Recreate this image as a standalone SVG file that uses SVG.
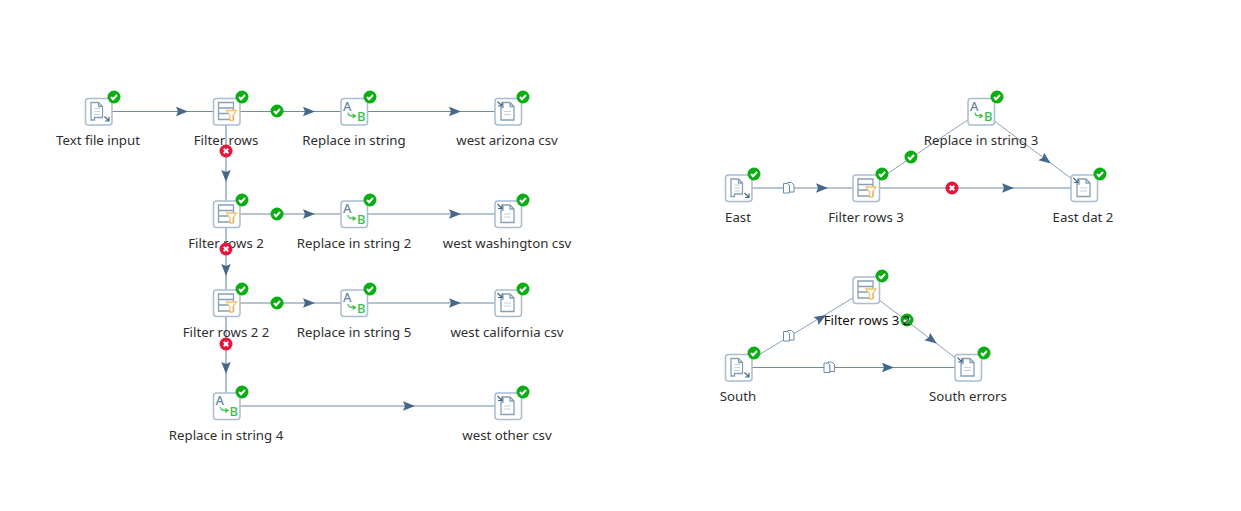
<svg xmlns="http://www.w3.org/2000/svg" xmlns:xlink="http://www.w3.org/1999/xlink" width="1241" height="511" viewBox="0 0 1241 511">
<style>
.l{fill:none;stroke:#6c8aa3;stroke-width:1.1}
.d{fill:none;stroke:#8aa2b7;stroke-width:1}
.t{font:13.25px "Noto Sans","Open Sans",sans-serif;fill:#2f2f2f;text-anchor:middle}
.box{fill:#fff;stroke:#a9bdcf;stroke-width:1.5}
.ic{fill:none;stroke:#86a0b7;stroke-width:1.3}
.ok{fill:#0aae12}
.bad{fill:#e8143c}
.w{fill:none;stroke:#fff;stroke-width:2}
.ab{font:500 13px "Noto Sans",sans-serif}
</style>
<defs>
<path id="ah" d="M-6-4.700L6 0L-6 4.700L-4 0Z" fill="#45688a"/>
<g id="in"><rect class="box" x="-13" y="-13" width="26.500" height="26.500" rx="3"/><path class="ic" d="M-7.500-9H0L4-5V6H-4V8.500H-7.500ZM0-9V-5H4"/><path d="M-4-3H1.500M-4 0H1.500M-4 3H1.500" stroke="#c4d1dc" fill="none"/><path d="M6 5L10.500 9.500M10.500 5.500V9.500H6.500" stroke="#45688a" fill="none" stroke-width="1.2"/></g>
<g id="out"><rect class="box" x="-13" y="-13" width="26.500" height="26.500" rx="3"/><path class="ic" d="M-5-9H2L6-5V8.500H-7V-4H-5ZM2-9V-5H6"/><path d="M-4 0H3M-4 3H3" stroke="#c4d1dc" fill="none"/><path d="M-10.500-10L-6-5.500M-6-9.500V-5.500H-10" stroke="#45688a" fill="none" stroke-width="1.2"/></g>
<g id="flt"><rect class="box" x="-13" y="-13" width="26.500" height="26.500" rx="3"/><path class="ic" d="M-8-9H7V8H-8ZM-8-3.500H7M-8 2H7" stroke-width="1.5"/><path d="M0-1H10L6.500 4V9L3.500 9V4Z" fill="#fff" stroke="#f8c06a" stroke-width="1.3"/></g>
<g id="rep"><rect class="box" x="-13" y="-13" width="26.500" height="26.500" rx="3"/><text x="-11" y="-1" class="ab" fill="#6a86a0">A</text><text x="3" y="9.500" class="ab" fill="#35c24a">B</text><path d="M-6 1C-6 4-4 4.500 1 4.500M-1.500 2.500L1.500 4.500L-1.500 6.500" fill="none" stroke="#35c24a" stroke-width="1.2"/></g>
<g id="okb"><circle r="6.500" class="ok"/><path class="w" d="M-3 0L-1 2.200L3-2"/></g>
<g id="bad"><circle r="6.500" class="bad"/><path class="w" d="M-2.300-2.300L2.300 2.300M2.300-2.300L-2.300 2.300"/></g>
<g id="cp"><path d="M-5-4.500H-1L1-2.500V5H-5Z" fill="#fff" stroke="#6f8ca6" stroke-width="1"/><path d="M-1-5.500H3L5.500-3V4H1V-2.500L-1-4.500Z" fill="#fff" stroke="#6f8ca6" stroke-width="1"/></g>
</defs>
<g id="connectors">
<path class="l" d="M98 111.500H508M226 111.500V406M226 214H508M226 303H508M226 406H508"/>
<path class="l" d="M738 188H1084M738 367.500H968"/>
<path class="d" d="M866 188L981 111L1084 188M738 367.500L866 290L968 367.500"/>
<use href="#ah" x="182" y="111.500"/>
<use href="#ah" x="309" y="111.500"/>
<use href="#ah" x="455" y="111.500"/>
<use href="#ah" transform="translate(226 176) rotate(90)"/>
<use href="#ah" x="309" y="214"/>
<use href="#ah" x="455" y="214"/>
<use href="#ah" transform="translate(226 270) rotate(90)"/>
<use href="#ah" x="309" y="303"/>
<use href="#ah" x="455" y="303"/>
<use href="#ah" transform="translate(226 368) rotate(90)"/>
<use href="#ah" x="409" y="406"/>
<use href="#ah" x="822" y="188"/>
<use href="#ah" x="1008" y="188"/>
<use href="#ah" transform="translate(1046 160) rotate(37)"/>
<use href="#ah" transform="translate(821 318) rotate(-31)"/>
<use href="#ah" transform="translate(932 340) rotate(37)"/>
<use href="#ah" x="888" y="367.500"/>
<use href="#cp" x="788.500" y="188"/>
<use href="#cp" x="788.500" y="336"/>
<use href="#cp" x="829" y="367.500"/>
<use href="#okb" x="277" y="111"/>
<use href="#okb" x="277" y="214"/>
<use href="#okb" x="277" y="303"/>
<use href="#okb" x="911" y="157"/>
<use href="#bad" x="952" y="188"/>
<use href="#okb" x="907" y="320"/>
</g>
<g id="n1"><use href="#in" x="98.500" y="111.500"/><use href="#okb" x="114" y="97"/><text class="t" x="98" y="145">Text file input</text></g>
<g id="n2"><use href="#flt" x="226.500" y="111.500"/><use href="#okb" x="242" y="97"/><text class="t" x="226" y="145">Filter rows</text><use href="#bad" x="226" y="151"/></g>
<g id="n3"><use href="#rep" x="354" y="111.500"/><use href="#okb" x="370" y="97"/><text class="t" x="354" y="145">Replace in string</text></g>
<g id="n4"><use href="#out" x="508" y="111.500"/><use href="#okb" x="523" y="97"/><text class="t" x="507" y="145">west arizona csv</text></g>
<g id="n5"><use href="#flt" x="226.500" y="214"/><use href="#okb" x="242" y="200"/><text class="t" x="226" y="248">Filter rows 2</text><use href="#bad" x="226" y="249"/></g>
<g id="n6"><use href="#rep" x="354" y="214"/><use href="#okb" x="370" y="200"/><text class="t" x="354" y="248">Replace in string 2</text></g>
<g id="n7"><use href="#out" x="508" y="214"/><use href="#okb" x="523" y="200"/><text class="t" x="507" y="248">west washington csv</text></g>
<g id="n8"><use href="#flt" x="226.500" y="303"/><use href="#okb" x="242" y="289"/><text class="t" x="226" y="337">Filter rows 2 2</text><use href="#bad" x="226" y="344"/></g>
<g id="n9"><use href="#rep" x="354" y="303"/><use href="#okb" x="370" y="289"/><text class="t" x="354" y="337">Replace in string 5</text></g>
<g id="n10"><use href="#out" x="508" y="303"/><use href="#okb" x="523" y="289"/><text class="t" x="507" y="337">west california csv</text></g>
<g id="n11"><use href="#rep" x="226.500" y="406"/><use href="#okb" x="242" y="392"/><text class="t" x="226" y="440">Replace in string 4</text></g>
<g id="n12"><use href="#out" x="508" y="406"/><use href="#okb" x="523" y="392"/><text class="t" x="507" y="440">west other csv</text></g>
<g id="n13"><use href="#in" x="738.500" y="188"/><use href="#okb" x="754" y="174"/><text class="t" x="738" y="222">East</text></g>
<g id="n14"><use href="#flt" x="866" y="188"/><use href="#okb" x="882" y="174"/><text class="t" x="866" y="222">Filter rows 3</text></g>
<g id="n15"><use href="#rep" x="981" y="111.500"/><use href="#okb" x="997" y="97"/><text class="t" x="981" y="145">Replace in string 3</text></g>
<g id="n16"><use href="#out" x="1084" y="188"/><use href="#okb" x="1100" y="174"/><text class="t" x="1083" y="222">East dat 2</text></g>
<g id="n17"><use href="#flt" x="866" y="290"/><use href="#okb" x="882" y="276"/><text class="t" x="867" y="325" style="fill:#111">Filter rows 3 2</text></g>
<g id="n18"><use href="#in" x="738.500" y="367.500"/><use href="#okb" x="754" y="353"/><text class="t" x="738" y="401">South</text></g>
<g id="n19"><use href="#out" x="968" y="367.500"/><use href="#okb" x="984" y="353"/><text class="t" x="968" y="401">South errors</text></g>
</svg>
